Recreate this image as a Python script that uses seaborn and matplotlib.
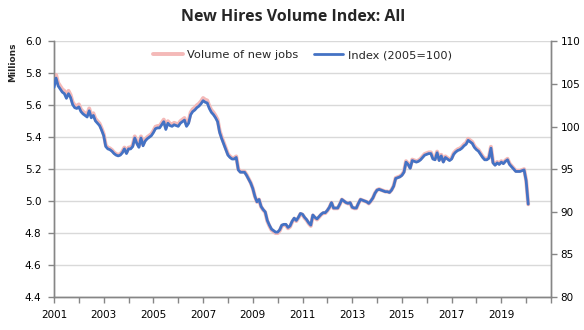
import numpy as np
import pandas as pd
import matplotlib
matplotlib.use("Agg")
import matplotlib.pyplot as plt
import seaborn as sns
from matplotlib.lines import Line2D
from matplotlib.ticker import MultipleLocator, FixedLocator

# ---- data (millions of new jobs, monthly from Jan 2001) ----
vol_2001 = [5.73, 5.79, 5.74, 5.72, 5.70, 5.69, 5.66, 5.69, 5.665, 5.62, 5.60, 5.595]
vol_2002 = [5.605, 5.575, 5.56, 5.55, 5.54, 5.58, 5.535, 5.55, 5.515, 5.50, 5.485, 5.455]
vol_2003 = [5.42, 5.35, 5.335, 5.33, 5.32, 5.305, 5.295, 5.29, 5.295, 5.31, 5.335, 5.305]
vol_2004 = [5.335, 5.335, 5.35, 5.405, 5.37, 5.345, 5.405, 5.355, 5.385, 5.40, 5.41, 5.42]
vol_2005 = [5.44, 5.465, 5.47, 5.47, 5.49, 5.51, 5.46, 5.50, 5.485, 5.48, 5.49, 5.485]
vol_2006 = [5.48, 5.50, 5.51, 5.52, 5.48, 5.50, 5.555, 5.575, 5.585, 5.60, 5.61, 5.625]
vol_2007 = [5.645, 5.635, 5.63, 5.595, 5.57, 5.555, 5.535, 5.51, 5.44, 5.40, 5.365, 5.33]
vol_2008 = [5.295, 5.28, 5.27, 5.27, 5.28, 5.20, 5.185, 5.185, 5.185, 5.165, 5.14, 5.115]
vol_2009 = [5.08, 5.03, 4.995, 5.01, 4.965, 4.945, 4.93, 4.875, 4.845, 4.82, 4.81, 4.80]
vol_2010 = [4.80, 4.815, 4.845, 4.85, 4.85, 4.83, 4.84, 4.87, 4.89, 4.875, 4.895, 4.92]
vol_2011 = [4.915, 4.895, 4.88, 4.86, 4.845, 4.91, 4.895, 4.885, 4.90, 4.915, 4.925, 4.925]
vol_2012 = [4.94, 4.96, 4.99, 4.955, 4.955, 4.955, 4.98, 5.01, 5.00, 4.99, 4.985, 4.99]
vol_2013 = [4.96, 4.955, 4.955, 4.985, 5.01, 5.005, 5.00, 4.995, 4.985, 5.00, 5.02, 5.05]
vol_2014 = [5.07, 5.075, 5.07, 5.065, 5.06, 5.06, 5.055, 5.07, 5.095, 5.145, 5.15, 5.155]
vol_2015 = [5.165, 5.185, 5.25, 5.235, 5.21, 5.26, 5.255, 5.25, 5.255, 5.265, 5.28, 5.295]
vol_2016 = [5.30, 5.305, 5.305, 5.27, 5.265, 5.31, 5.26, 5.29, 5.25, 5.28, 5.27, 5.26]
vol_2017 = [5.27, 5.30, 5.315, 5.325, 5.33, 5.34, 5.355, 5.365, 5.39, 5.38, 5.37, 5.345]
vol_2018 = [5.33, 5.32, 5.30, 5.28, 5.265, 5.265, 5.275, 5.34, 5.245, 5.23, 5.245, 5.235]
vol_2019 = [5.25, 5.24, 5.255, 5.265, 5.235, 5.22, 5.205, 5.19, 5.19, 5.19, 5.195, 5.20]
vol_2020 = [5.13, 4.98]

volume = np.array(vol_2001 + vol_2002 + vol_2003 + vol_2004 + vol_2005 + vol_2006 +
                  vol_2007 + vol_2008 + vol_2009 + vol_2010 + vol_2011 + vol_2012 +
                  vol_2013 + vol_2014 + vol_2015 + vol_2016 + vol_2017 + vol_2018 +
                  vol_2019 + vol_2020)
start_year = 2001
months = np.arange(len(volume))
dates = start_year + months / 12.0
# index: 2005 average = 100
base_2005 = np.mean(vol_2005)
index = volume / base_2005 * 100

year_labels = [str(y) for y in range(2001, 2021, 2)]
left_ticks = [4.4, 4.6, 4.8, 5.0, 5.2, 5.4, 5.6, 5.8, 6.0]
right_ticks = [80, 85, 90, 95, 100, 105, 110]

df = pd.DataFrame({"date": dates, "volume": volume, "index": index})

# ---- style ----
sns.set_theme(style="white")
plt.rcParams["font.family"] = ["DejaVu Sans"]
axis_grey = "#868686"
text_col = "#000000"
pink = "#F4B9B8"
blue = "#4472C4"

fig = plt.figure(figsize=(5.84, 3.30), dpi=100)
ax = fig.add_axes([54 / 584, 1 - 297 / 330, (551 - 54) / 584, (297 - 41.3) / 330])
ax2 = ax.twinx()

sns.lineplot(data=df, x="date", y="volume", ax=ax, color=pink, linewidth=2.8, zorder=3)
sns.lineplot(data=df, x="date", y="index", ax=ax2, color=blue, linewidth=2.0, zorder=4)

ax.set_xlim(2001, 2021)
ax.set_ylim(4.4, 6.0)
ax2.set_ylim(80, 110)

ax.yaxis.set_major_locator(FixedLocator(left_ticks))
ax.set_yticklabels([f"{t:.1f}" for t in left_ticks])
ax2.yaxis.set_major_locator(FixedLocator(right_ticks))
ax2.set_yticklabels([str(t) for t in right_ticks])

ax.xaxis.set_major_locator(FixedLocator(list(range(2001, 2021, 2))))
ax.set_xticklabels(year_labels)
ax.xaxis.set_minor_locator(MultipleLocator(1))

ax.grid(axis="y", color="#D9D9D9", linewidth=1.0, zorder=0)
ax.set_axisbelow(True)

for a in (ax, ax2):
    a.set_xlabel("")
    a.set_ylabel("")
    a.spines["top"].set_visible(False)
    for s in ("left", "right", "bottom"):
        a.spines[s].set_color(axis_grey)
        a.spines[s].set_linewidth(1.0)

ax.tick_params(axis="y", which="major", direction="out", length=4, width=1,
               color=axis_grey, labelsize=7.5, labelcolor=text_col, left=True, pad=5)
ax2.tick_params(axis="y", which="major", direction="out", length=4, width=1,
                color=axis_grey, labelsize=7.5, labelcolor=text_col, right=True, pad=3)
ax.tick_params(axis="x", which="both", direction="out", length=4, width=1,
               color=axis_grey, labelsize=7.5, labelcolor=text_col, bottom=True, pad=5)

fig.text(293 / 584, 1 - 17 / 330, "New Hires Volume Index: All", ha="center", va="center",
         fontsize=11.5, fontweight="bold", family=["Open Sans", "DejaVu Sans"])
fig.text(13 / 584, 1 - 62 / 330, "Millions", rotation=90, ha="center", va="center",
         fontsize=6.5, fontweight="bold")

handles = [Line2D([], [], color=pink, linewidth=2.8),
           Line2D([], [], color=blue, linewidth=2.0)]
leg = ax2.legend(handles, ["Volume of new jobs", "Index (2005=100)"], ncol=2,
                 loc="center", bbox_to_anchor=(0.5, 0.945), frameon=False,
                 fontsize=8.2, handlelength=2.6, columnspacing=1.3, handletextpad=0.4)

fig.savefig("out.png", dpi=100)
